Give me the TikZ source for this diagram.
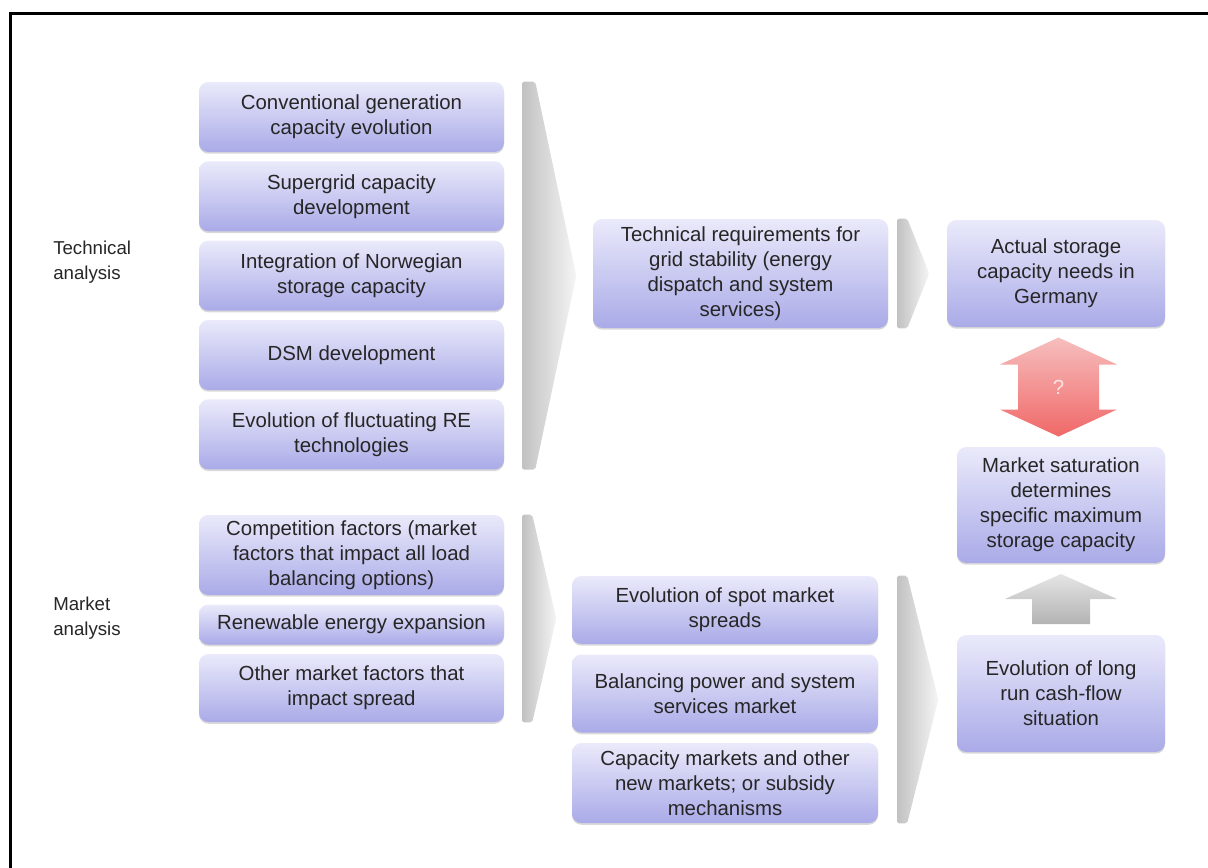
\documentclass[tikz,border=0pt]{standalone}
\usepackage{fontspec}
\setmainfont{Liberation Sans}
\usepackage{tikz}
\usetikzlibrary{positioning, calc, shadows}

\definecolor{boxtop}{RGB}{234,234,251}
\definecolor{boxbot}{RGB}{170,170,232}
\definecolor{ink}{RGB}{38,38,38}
\definecolor{redtop}{RGB}{247,190,190}
\definecolor{redbot}{RGB}{240,104,104}
\definecolor{qcol}{RGB}{252,226,226}

\begin{document}
\begin{tikzpicture}[
  x=0.75pt, y=-0.75pt,
  every node/.style={font=\fontsize{15.3}{18.8}\selectfont, text=ink},
  box/.style    = {align=center, rounded corners=7pt, inner sep=2pt, top color=boxtop, bottom color=boxbot,
                   drop shadow={shadow xshift=0pt, shadow yshift=-1.3pt, opacity=.3}},
  lcol/.style   = {box, minimum width=228.75pt},
  mcol/.style   = {box, minimum width=229.5pt},
  rcol/.style   = {box, minimum width=156pt},
  side/.style   = {font=\fontsize{14}{18.75}\selectfont, align=left, anchor=west, inner sep=0pt},
  chev/.style   = {left color=black!24, right color=black!4, rounded corners=1.5pt},
  redarr/.style = {top color=redtop, bottom color=redbot},
  uparr/.style  = {top color=black!10, bottom color=black!30},
  frame/.style  = {line width=2.25pt},
]
  \useasboundingbox (0,0) rectangle (1208,868);
  \draw[frame] (10,868) -- (10,13) -- (1208,13);

  % technical analysis
  \node[side] (tlab) at (53,262) {Technical\\analysis};
  \node[lcol, minimum height=52.5pt] (t1) at (351.5,117) {Conventional generation\\capacity evolution};
  \node[lcol, minimum height=52.5pt, below=6.6pt of t1] (t2) {Supergrid capacity\\development};
  \node[lcol, minimum height=52.5pt, below=6.6pt of t2] (t3) {Integration of Norwegian\\storage capacity};
  \node[lcol, minimum height=52.5pt, below=6.6pt of t3] (t4) {DSM development};
  \node[lcol, minimum height=52.5pt, below=6.6pt of t4] (t5) {Evolution of fluctuating RE\\technologies};
  \node[box, minimum width=221.25pt, minimum height=81.75pt] (tr) at (740.5,273.5) {Technical requirements for\\grid stability (energy\\dispatch and system\\services)};
  \node[box, minimum width=163.5pt, minimum height=80.25pt] (act) at (1056,273.5) {Actual storage\\capacity needs in\\Germany};

  % market analysis
  \node[side] (mlab) at (53,618) {Market\\analysis};
  \node[lcol, minimum height=60pt] (m1) at (351.5,555) {Competition factors (market\\factors that impact all load\\balancing options)};
  \node[lcol, minimum height=30pt, below=6.75pt of m1] (m2) {Renewable energy expansion};
  \node[lcol, minimum height=51pt, below=6.75pt of m2] (m3) {Other market factors that\\impact spread};
  \node[mcol, minimum height=51pt] (s1) at (725,610) {Evolution of spot market\\spreads};
  \node[mcol, minimum height=58.5pt, below=7.5pt of s1] (s2) {Balancing power and system\\services market};
  \node[mcol, minimum height=60pt, below=7.5pt of s2] (s3) {Capacity markets and other\\new markets; or subsidy\\mechanisms};
  \node[rcol, minimum height=87.75pt] (cash) at (1061,693.5) {Evolution of long\\run cash-flow\\situation};
  \node[rcol, minimum height=87pt] (sat) at (1061,505) {Market saturation\\determines\\specific maximum\\storage capacity};

  % chevrons
  \foreach \a/\b/\g/\w/\t in {t1/t5/18/13/72, m1/m3/18/10/52, tr/tr/9/10/41, s1/s3/19/10/60}
    \path[chev] ($(\a.north east)+(\g,0)$) -- ($(\a.north east)+(\g+\w,0)$)
      -- ($(\a.north east)!.5!(\b.south east)+(\t,0)$)
      -- ($(\b.south east)+(\g+\w,0)$) -- ($(\b.south east)+(\g,0)$) -- cycle;

  % arrows between the right boxes
  \coordinate (qm) at ($(act.south)!.5!(sat.north)$);
  \path[redarr] ($(qm)+(0,-49.5)$) -- ++(58.5,27) -- ++(-18,0) -- ++(0,45) -- ++(18,0) -- ++(-58.5,27)
    -- ++(-58.5,-27) -- ++(18,0) -- ++(0,-45) -- ++(-18,0) -- cycle;
  \node[text=qcol] (ask) at (qm) {?};
  \coordinate (up) at ($(sat.south)!.5!(cash.north)$);
  \path[uparr] ($(up)+(0,-25)$) -- ++(56,25) -- ++(-27,0) -- ++(0,25) -- ++(-58,0) -- ++(0,-25) -- ++(-27,0) -- cycle;
\end{tikzpicture}
\end{document}
